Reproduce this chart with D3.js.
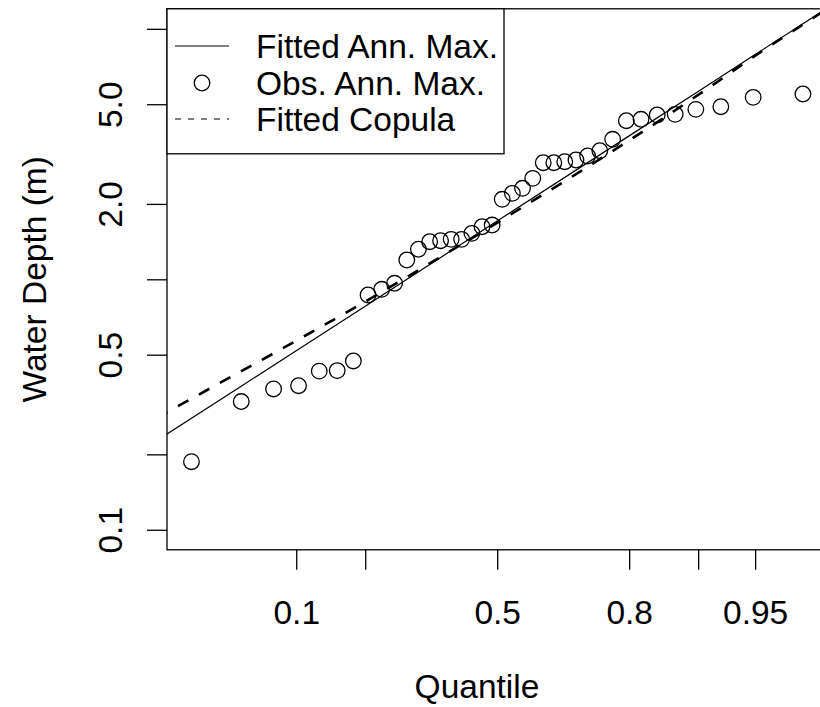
<!DOCTYPE html>
<html>
<head>
<meta charset="utf-8">
<script src="https://cdn.jsdelivr.net/npm/d3@7"></script>
<style>
  body { margin: 0; background: #fff; }
  svg { display: block; font-family: "Liberation Sans", Arial, sans-serif; }
</style>
</head>
<body>
<svg id="chart" width="820" height="707"></svg>
<script>
// observed annual maxima, plotted at i/(n+1)
const obsProb = [0.0256, 0.0513, 0.0769, 0.1026, 0.1282, 0.1538, 0.1795, 0.2051, 0.2308, 0.2564,
  0.2821, 0.3077, 0.3333, 0.3590, 0.3846, 0.4103, 0.4359, 0.4615, 0.4872, 0.5128,
  0.5385, 0.5641, 0.5897, 0.6154, 0.6410, 0.6667, 0.6923, 0.7179, 0.7436, 0.7692,
  0.7949, 0.8205, 0.8462, 0.8718, 0.8974, 0.9231, 0.9487, 0.9744];
const obsDepth = [0.187, 0.325, 0.365, 0.376, 0.430, 0.432, 0.472, 0.866, 0.912, 0.964,
  1.194, 1.318, 1.413, 1.426, 1.444, 1.444, 1.526, 1.622, 1.647, 2.086,
  2.204, 2.308, 2.530, 2.921, 2.921, 2.948, 2.994, 3.106, 3.262, 3.622,
  4.298, 4.353, 4.528, 4.557, 4.770, 4.887, 5.327, 5.492];

// fitted annual maximum distribution
const fitProb = [0.01, 0.05, 0.1, 0.2, 0.5, 0.8, 0.9, 0.95, 0.99];
const fitDepth = [0.1964, 0.3701, 0.5189, 0.7812, 1.709, 3.738, 5.627, 7.892, 14.87];

// fitted copula curve
const copProb = [0.015, 0.0184, 0.102, 0.191, 0.311, 0.525, 0.758, 0.835, 0.91, 0.953, 0.98, 0.99];
const copDepth = [0.280, 0.299, 0.574, 0.793, 1.096, 1.778, 3.145, 4.059, 5.771, 8.037, 11.46, 14.87];

const xTickProbs = [0.1, 0.2, 0.5, 0.8, 0.9, 0.95];
const xTickLabels = ["0.1", "", "0.5", "0.8", "", "0.95"];
const yTicks = [0.1, 0.2, 0.5, 1, 2, 5, 10];
const yTickLabels = ["0.1", "", "0.5", "", "2.0", "5.0", ""];
const legendLabels = ["Fitted Ann. Max.", "Obs. Ann. Max.", "Fitted Copula"];

// inverse normal cdf (Acklam)
function qnorm(p) {
  const a = [-39.69683028665376, 220.9460984245205, -275.9285104469687, 138.3577518672690, -30.66479806614716, 2.506628277459239];
  const b = [-54.47609879822406, 161.5858368580409, -155.6989798598866, 66.80131188771972, -13.28068155288572];
  const c = [-0.007784894002430293, -0.3223964580411365, -2.400758277161838, -2.549732539343734, 4.374664141464968, 2.938163982698783];
  const d = [0.007784695709041462, 0.3224671290700398, 2.445134137142996, 3.754408661907416];
  const lo = 0.02425;
  if (p < lo) {
    const q = Math.sqrt(-2 * Math.log(p));
    return (((((c[0]*q+c[1])*q+c[2])*q+c[3])*q+c[4])*q+c[5]) / ((((d[0]*q+d[1])*q+d[2])*q+d[3])*q+1);
  }
  if (p > 1 - lo) {
    const q = Math.sqrt(-2 * Math.log(1 - p));
    return -(((((c[0]*q+c[1])*q+c[2])*q+c[3])*q+c[4])*q+c[5]) / ((((d[0]*q+d[1])*q+d[2])*q+d[3])*q+1);
  }
  const q = p - 0.5, r = q * q;
  return (((((a[0]*r+a[1])*r+a[2])*r+a[3])*r+a[4])*r+a[5])*q / (((((b[0]*r+b[1])*r+b[2])*r+b[3])*r+b[4])*r+1);
}

const svg = d3.select("#chart");
const plotL = 167, plotR = 827.4, plotT = 8.8, plotB = 549.8;
const fontSize = 33.5;

// x: normal quantile of probability, 4% padding around the plotting positions
const zExt = d3.extent(obsProb, qnorm);
const zPad = (zExt[1] - zExt[0]) * 0.04;
const x = d3.scaleLinear().domain([zExt[0] - zPad, zExt[1] + zPad]).range([plotL, plotR]);
const y = d3.scaleLog().domain([Math.pow(10, -1.08), Math.pow(10, 1.08)]).range([plotB, plotT]);

svg.append("defs").append("clipPath").attr("id", "plotclip")
  .append("rect").attr("x", plotL).attr("y", plotT)
  .attr("width", plotR - plotL).attr("height", plotB - plotT);

const line = (probs, vals, curve) => d3.line()
  .x((d, i) => x(qnorm(probs[i])))
  .y((d, i) => y(vals[i]))
  .curve(curve)(probs);

const plot = svg.append("g").attr("clip-path", "url(#plotclip)");

plot.append("path")
  .attr("d", line(fitProb, fitDepth, d3.curveLinear))
  .attr("fill", "none").attr("stroke", "#000").attr("stroke-width", 1.2);

plot.append("path")
  .attr("d", line(copProb, copDepth, d3.curveMonotoneX))
  .attr("fill", "none").attr("stroke", "#000").attr("stroke-width", 2.6)
  .attr("stroke-dasharray", "12,12");

plot.selectAll("circle.obs")
  .data(obsProb)
  .enter()
  .append("circle")
  .attr("class", "obs")
  .attr("cx", d => x(qnorm(d)))
  .attr("cy", (d, i) => y(obsDepth[i]))
  .attr("r", 7.8)
  .attr("fill", "none").attr("stroke", "#000").attr("stroke-width", 1.3);

// box
svg.append("rect")
  .attr("x", plotL).attr("y", plotT)
  .attr("width", plotR - plotL).attr("height", plotB - plotT)
  .attr("fill", "none").attr("stroke", "#000").attr("stroke-width", 1.3);

// axes
const xAxis = svg.append("g")
  .attr("transform", `translate(0,${plotB})`)
  .call(d3.axisBottom(x)
    .tickValues(xTickProbs.map(qnorm))
    .tickSize(20)
    .tickFormat((d, i) => xTickLabels[i]));
xAxis.select(".domain").remove();
xAxis.selectAll(".tick line").attr("stroke-width", 1.3);
xAxis.selectAll(".tick text")
  .attr("y", 74.5).attr("dy", null)
  .attr("font-size", fontSize).attr("fill", "#000")
  .attr("font-family", "Liberation Sans, Arial, sans-serif");

const yAxis = svg.append("g")
  .attr("transform", `translate(${plotL},0)`)
  .call(d3.axisLeft(y)
    .tickValues(yTicks)
    .tickSize(20)
    .tickFormat((d, i) => yTickLabels[i]));
yAxis.select(".domain").remove();
yAxis.selectAll(".tick line").attr("stroke-width", 1.3);
yAxis.selectAll(".tick text")
  .attr("x", null).attr("dy", null)
  .attr("text-anchor", "middle")
  .attr("transform", "translate(-45,0) rotate(-90)")
  .attr("font-size", fontSize).attr("fill", "#000")
  .attr("font-family", "Liberation Sans, Arial, sans-serif");

// axis titles
svg.append("text")
  .attr("x", 477).attr("y", 698)
  .attr("text-anchor", "middle").attr("font-size", fontSize)
  .text("Quantile");

svg.append("text")
  .attr("transform", `translate(46,${(plotT + plotB) / 2}) rotate(-90)`)
  .attr("text-anchor", "middle").attr("font-size", fontSize)
  .text("Water Depth (m)");

// legend
const lg = svg.append("g");
lg.append("rect")
  .attr("x", plotL).attr("y", plotT)
  .attr("width", 337).attr("height", 145)
  .attr("fill", "#fff").attr("stroke", "#000").attr("stroke-width", 1.3);

const rowY = [46, 83, 119];
lg.append("line")
  .attr("x1", 175).attr("x2", 229).attr("y1", rowY[0]).attr("y2", rowY[0])
  .attr("stroke", "#000").attr("stroke-width", 1.2);
lg.append("circle")
  .attr("cx", 202).attr("cy", rowY[1]).attr("r", 7.8)
  .attr("fill", "none").attr("stroke", "#000").attr("stroke-width", 1.3);
lg.append("line")
  .attr("x1", 175).attr("x2", 229).attr("y1", rowY[2]).attr("y2", rowY[2])
  .attr("stroke", "#000").attr("stroke-width", 1.2)
  .attr("stroke-dasharray", "6,7");

lg.selectAll("text.leg")
  .data(legendLabels)
  .enter()
  .append("text")
  .attr("class", "leg")
  .attr("x", 256)
  .attr("y", (d, i) => rowY[i] + 12)
  .attr("font-size", fontSize)
  .text(d => d);
</script>
</body>
</html>
